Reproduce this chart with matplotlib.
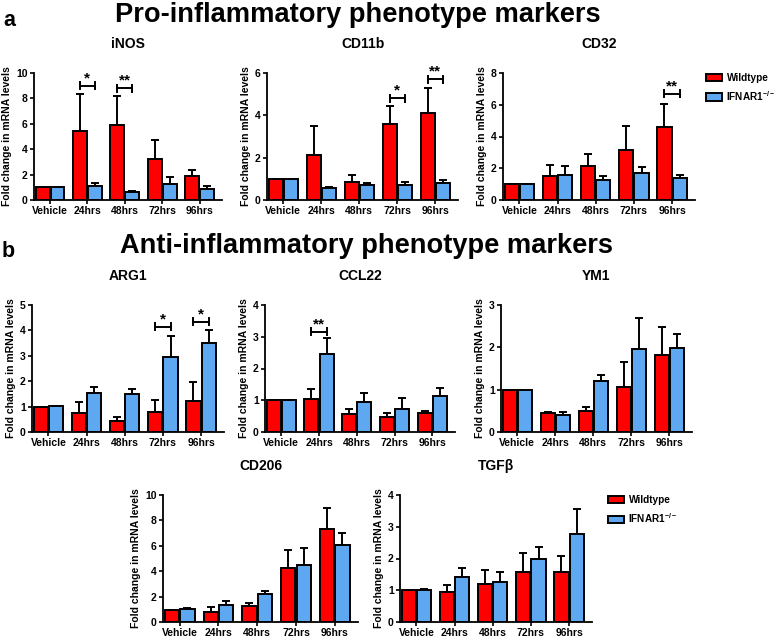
import matplotlib
matplotlib.use("Agg")
import matplotlib.pyplot as plt
from matplotlib.patches import Patch

plt.rcParams['font.family'] = ['Liberation Sans', 'DejaVu Sans']
plt.rcParams['font.weight'] = 'bold'
plt.rcParams['mathtext.default'] = 'regular'

categories = ["Vehicle", "24hrs", "48hrs", "72hrs", "96hrs"]
series_names = ["Wildtype", "IFNAR1$^{-/-}$"]

# iNOS
inos_wt = [1.0, 5.4, 5.9, 3.2, 1.9]
inos_wt_err = [0.0, 2.95, 2.3, 1.5, 0.5]
inos_ko = [1.02, 1.1, 0.62, 1.28, 0.9]
inos_ko_err = [0.0, 0.25, 0.05, 0.52, 0.23]
inos_sig = [(1, 9.0, "*"), (2, 8.8, "**")]

# CD11b
cd11b_wt = [1.0, 2.14, 0.87, 3.58, 4.12]
cd11b_wt_err = [0.0, 1.36, 0.32, 0.86, 1.19]
cd11b_ko = [1.0, 0.58, 0.7, 0.7, 0.78]
cd11b_ko_err = [0.0, 0.03, 0.12, 0.15, 0.17]
cd11b_sig = [(3, 4.8, "*"), (4, 5.7, "**")]

# CD32
cd32_wt = [1.0, 1.5, 2.15, 3.17, 4.6]
cd32_wt_err = [0.0, 0.69, 0.75, 1.5, 1.42]
cd32_ko = [1.0, 1.6, 1.27, 1.69, 1.4]
cd32_ko_err = [0.0, 0.52, 0.23, 0.39, 0.2]
cd32_sig = [(4, 6.7, "**")]

# ARG1
arg1_wt = [1.0, 0.73, 0.42, 0.79, 1.23]
arg1_wt_err = [0.0, 0.45, 0.17, 0.47, 0.75]
arg1_ko = [1.02, 1.52, 1.48, 2.94, 3.49]
arg1_ko_err = [0.0, 0.26, 0.2, 0.85, 0.52]
arg1_sig = [(3, 4.14, "*"), (4, 4.34, "*")]

# CCL22
ccl22_wt = [1.01, 1.03, 0.56, 0.46, 0.59]
ccl22_wt_err = [0.0, 0.34, 0.16, 0.13, 0.06]
ccl22_ko = [1.0, 2.47, 0.93, 0.74, 1.13]
ccl22_ko_err = [0.0, 0.48, 0.31, 0.34, 0.27]
ccl22_sig = [(1, 3.16, "**")]

# YM1
ym1_wt = [1.0, 0.46, 0.49, 1.07, 1.81]
ym1_wt_err = [0.0, 0.01, 0.11, 0.59, 0.68]
ym1_ko = [1.0, 0.41, 1.21, 1.95, 1.98]
ym1_ko_err = [0.0, 0.07, 0.13, 0.75, 0.34]
ym1_sig = []

# CD206
cd206_wt = [0.97, 0.79, 1.26, 4.26, 7.34]
cd206_wt_err = [0.0, 0.39, 0.24, 1.4, 1.61]
cd206_ko = [1.05, 1.37, 2.18, 4.47, 6.08]
cd206_ko_err = [0.05, 0.26, 0.27, 1.37, 0.95]
cd206_sig = []

# TGFb
tgfb_wt = [1.0, 0.93, 1.2, 1.59, 1.57]
tgfb_wt_err = [0.0, 0.23, 0.44, 0.58, 0.51]
tgfb_ko = [1.01, 1.43, 1.25, 1.97, 2.77]
tgfb_ko_err = [0.02, 0.26, 0.32, 0.39, 0.79]
tgfb_sig = []

RED = "#ff0000"
BLUE = "#5ea8f2"
W, H = 778, 637

fig = plt.figure(figsize=(W / 100, H / 100), dpi=100)


def add_ax(x0, x1, ytop, ybot):
    return fig.add_axes([x0 / W, 1 - ybot / H, (x1 - x0) / W, (ybot - ytop) / H])


def panel(box, title, wt, wte, ko, koe, sig, ymax, ystep):
    ax = add_ax(*box)
    n = len(categories)
    xs = list(range(n))
    bw = 0.37
    xw = [x - 0.2 for x in xs]
    xk = [x + 0.2 for x in xs]
    ax.bar(xw, wt, width=bw, color=RED, edgecolor="black", linewidth=1.4, zorder=2)
    ax.bar(xk, ko, width=bw, color=BLUE, edgecolor="black", linewidth=1.4, zorder=2)
    ax.errorbar(xw, wt, yerr=[[0] * n, wte], fmt="none", ecolor="black",
                elinewidth=1.4, capsize=2.7, capthick=1.4, zorder=1)
    ax.errorbar(xk, ko, yerr=[[0] * n, koe], fmt="none", ecolor="black",
                elinewidth=1.4, capsize=2.7, capthick=1.4, zorder=1)
    for gi, yv, s in sig:
        h = ymax * 0.028
        ax.plot([gi - 0.2, gi - 0.2, gi - 0.2, gi + 0.2, gi + 0.2, gi + 0.2],
                [yv - h, yv + h, yv, yv, yv - h, yv + h], color="black", lw=1.4,
                clip_on=False)
        ax.text(gi, yv + ymax * 0.005, s, ha="center", va="bottom",
                fontsize=11, fontweight="bold")
    ax.set_xlim(-0.43, 4.6)
    ax.set_ylim(0, ymax)
    ticks = []
    t = 0
    while t <= ymax + 1e-9:
        ticks.append(t)
        t += ystep
    ax.set_yticks(ticks)
    ax.set_yticklabels([f"{int(v)}" for v in ticks])
    ax.set_xticks(xs)
    ax.set_xticklabels(categories)
    for sp in ["top", "right"]:
        ax.spines[sp].set_visible(False)
    for sp in ["left", "bottom"]:
        ax.spines[sp].set_linewidth(1.3)
    ax.tick_params(axis="both", direction="out", length=3, width=1.2,
                   labelsize=7.5, pad=1.5)
    for lab in ax.get_xticklabels() + ax.get_yticklabels():
        lab.set_fontweight("bold")
    ax.set_ylabel("Fold change in mRNA levels", fontsize=7.5, fontweight="bold",
                  labelpad=3)
    ax.set_title(title, fontsize=10, fontweight="bold", pad=18)
    return ax


panel((34, 222, 73, 200), "iNOS", inos_wt, inos_wt_err, inos_ko, inos_ko_err, inos_sig, 10, 2)
panel((267, 458, 73, 200), "CD11b", cd11b_wt, cd11b_wt_err, cd11b_ko, cd11b_ko_err, cd11b_sig, 6, 2)
panel((503, 695, 73, 200), "CD32", cd32_wt, cd32_wt_err, cd32_ko, cd32_ko_err, cd32_sig, 8, 2)
panel((32, 224, 305, 432), "ARG1", arg1_wt, arg1_wt_err, arg1_ko, arg1_ko_err, arg1_sig, 5, 1)
panel((265, 455, 305, 432), "CCL22", ccl22_wt, ccl22_wt_err, ccl22_ko, ccl22_ko_err, ccl22_sig, 4, 1)
panel((501, 692, 305, 432), "YM1", ym1_wt, ym1_wt_err, ym1_ko, ym1_ko_err, ym1_sig, 3, 1)
panel((163, 358, 495, 622), "CD206", cd206_wt, cd206_wt_err, cd206_ko, cd206_ko_err, cd206_sig, 10, 2)
panel((400, 592, 495, 622), "TGF\u03b2", tgfb_wt, tgfb_wt_err, tgfb_ko, tgfb_ko_err, tgfb_sig, 4, 1)

handles = [Patch(facecolor=RED, edgecolor="black", linewidth=1.4),
           Patch(facecolor=BLUE, edgecolor="black", linewidth=1.4)]
for (lx, ly) in [(706 / W, 1 - 73 / H), (608 / W, 1 - 495 / H)]:
    fig.legend(handles, series_names, loc="upper left", bbox_to_anchor=(lx, ly),
               frameon=False, prop={"weight": "bold", "size": 7.2},
               handlelength=1.6, handleheight=0.8, handletextpad=0.45,
               labelspacing=0.6, borderaxespad=0, borderpad=0)

fig.text(358 / W, 1 - 15 / H, "Pro-inflammatory phenotype markers", ha="center",
         va="center", fontsize=19.6, fontweight="bold")
fig.text(367 / W, 1 - 246 / H, "Anti-inflammatory phenotype markers", ha="center",
         va="center", fontsize=19.6, fontweight="bold")
fig.text(3 / W, 1 - 20 / H, "a", ha="left", va="center", fontsize=15.5, fontweight="bold")
fig.text(2 / W, 1 - 252 / H, "b", ha="left", va="center", fontsize=15.5, fontweight="bold")

fig.savefig("out.png", dpi=100)
